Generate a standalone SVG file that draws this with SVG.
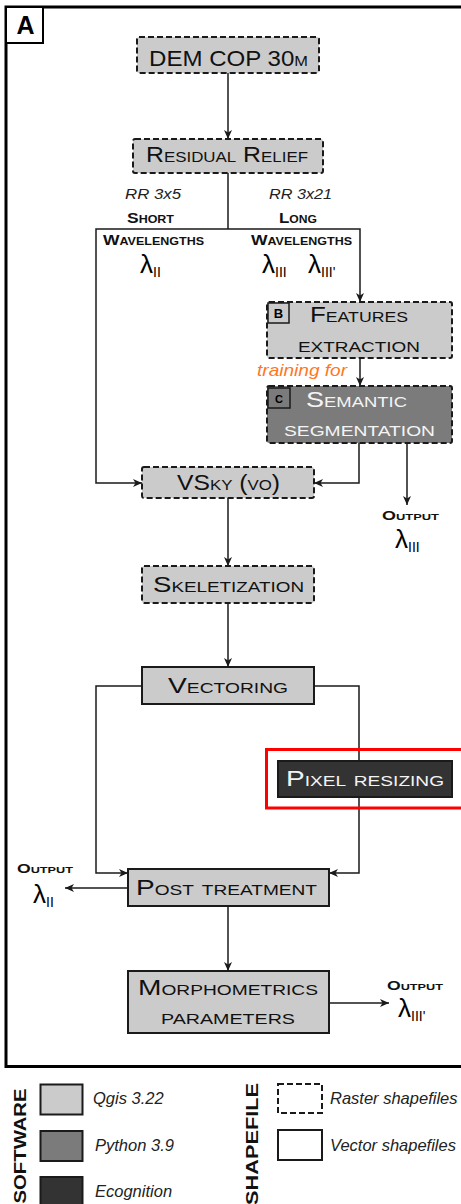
<svg xmlns="http://www.w3.org/2000/svg" width="461" height="1204" viewBox="0 0 461 1204">
<style>
.box{stroke:#1a1a1a;stroke-width:2}
.dash{stroke-dasharray:6 3}
.lg{fill:#cbcbcb}
.md{fill:#7b7b7b}
.dk{fill:#333333}
.lbl{font-family:"Liberation Sans",Arial,sans-serif;font-size:22px;fill:#111;font-variant:small-caps}
.wh{fill:#f4f4f4}
.sm{font-family:"Liberation Sans",Arial,sans-serif;font-size:14px;font-weight:bold;font-variant:small-caps;fill:#111}
.it{font-family:"Liberation Sans",Arial,sans-serif;font-size:14px;font-style:italic;fill:#222}
.lam{font-family:"Liberation Sans",Arial,sans-serif;font-size:26px;fill:#000000}
.sub{font-size:14px;fill:#000000}
.leg{font-family:"Liberation Sans",Arial,sans-serif;font-size:16.5px;font-style:italic;fill:#222}
.vt{font-family:"Liberation Sans",Arial,sans-serif;font-size:17px;font-weight:bold;fill:#111}
.conn{fill:none;stroke:#1a1a1a;stroke-width:1.5}
</style>
<defs>
<marker id="ah" markerUnits="userSpaceOnUse" markerWidth="10" markerHeight="8" refX="9" refY="4" orient="auto">
<path d="M0,0 L9,4 L0,8 L2.5,4 Z" fill="#1a1a1a"/>
</marker>
</defs>
<rect width="461" height="1204" fill="#ffffff"/>
<!-- frame -->
<g id="frame">
<rect x="6" y="7" width="470" height="1059.5" fill="none" stroke="#000" stroke-width="3"/>
<rect x="6" y="7" width="37" height="36" fill="#fff" stroke="#000" stroke-width="2"/>
<text x="25.5" y="34" text-anchor="middle" style="font-family:'Liberation Sans',Arial,sans-serif;font-size:25px;font-weight:bold">A</text>
</g>
<!-- connectors -->
<g id="connectors" class="conn">
<path d="M228,73 V139" marker-end="url(#ah)"/>
<path d="M228,173 V229"/>
<path d="M228,229 H96 V483 H142" marker-end="url(#ah)"/>
<path d="M228,229 H360 V302" marker-end="url(#ah)"/>
<path d="M360,358 V386" marker-end="url(#ah)"/>
<path d="M359,443 V483 H314" marker-end="url(#ah)"/>
<path d="M407,443 V505" marker-end="url(#ah)"/>
<path d="M228,498 V566" marker-end="url(#ah)"/>
<path d="M228,603 V667" marker-end="url(#ah)"/>
<path d="M142,686 H96 V873 H128" marker-end="url(#ah)"/>
<path d="M314,686 H359 V873 H329" marker-end="url(#ah)"/>
<path d="M128,888 H65" marker-end="url(#ah)"/>
<path d="M228,906 V971" marker-end="url(#ah)"/>
<path d="M329,1003 H389" marker-end="url(#ah)"/>
</g>
<!-- branch labels -->
<g id="branch-labels">
<text class="it" x="125" y="199" textLength="56" lengthAdjust="spacingAndGlyphs">RR 3x5</text>
<text class="it" x="269" y="199" textLength="63" lengthAdjust="spacingAndGlyphs">RR 3x21</text>
<text class="sm" x="127" y="223" textLength="47" lengthAdjust="spacingAndGlyphs">Short</text>
<text class="sm" x="279" y="223" textLength="38" lengthAdjust="spacingAndGlyphs">Long</text>
<text class="sm" x="103" y="245" textLength="101" lengthAdjust="spacingAndGlyphs">Wavelengths</text>
<text class="sm" x="251" y="245" textLength="101" lengthAdjust="spacingAndGlyphs">Wavelengths</text>
<text class="lam" x="140" y="273">λ<tspan class="sub" dy="4">II</tspan></text>
<text class="lam" x="262" y="273">λ<tspan class="sub" dy="4">III</tspan></text>
<text class="lam" x="308" y="273">λ<tspan class="sub" dy="4">III'</tspan></text>
<text x="257" y="376" textLength="90" lengthAdjust="spacingAndGlyphs" style="font-family:'Liberation Sans',Arial,sans-serif;font-size:17px;font-style:italic;fill:#ff7722">training for</text>
</g>
<!-- nodes -->
<g id="dem">
<rect class="box dash lg" x="137" y="37" width="182" height="36" rx="2"/>
<text class="lbl" x="149" y="66" textLength="159" lengthAdjust="spacingAndGlyphs">DEM COP 30m</text>
</g>
<g id="residual-relief">
<rect class="box dash lg" x="133" y="139" width="190" height="34" rx="2"/>
<text class="lbl" x="146" y="162" textLength="162" lengthAdjust="spacingAndGlyphs">Residual Relief</text>
</g>
<g id="features">
<rect class="box dash lg" x="267" y="302" width="185" height="56" rx="2"/>
<rect x="268" y="303" width="21" height="20" fill="#cbcbcb" stroke="#1a1a1a" stroke-width="1.5"/>
<text x="278.5" y="318" text-anchor="middle" style="font-family:'Liberation Sans',Arial,sans-serif;font-size:13px;font-weight:bold">B</text>
<text class="lbl" x="310" y="322" textLength="98" lengthAdjust="spacingAndGlyphs">Features</text>
<text class="lbl" x="298" y="352" textLength="122" lengthAdjust="spacingAndGlyphs">extraction</text>
</g>
<g id="semantic">
<rect class="box dash md" x="267" y="386" width="185" height="57" rx="2"/>
<rect x="268" y="388" width="22" height="20" fill="#7b7b7b" stroke="#1a1a1a" stroke-width="1.5"/>
<text x="279" y="403" text-anchor="middle" style="font-family:'Liberation Sans',Arial,sans-serif;font-size:11px;font-weight:bold">C</text>
<text class="lbl wh" x="306" y="407" textLength="101" lengthAdjust="spacingAndGlyphs">Semantic</text>
<text class="lbl wh" x="284" y="436" textLength="151" lengthAdjust="spacingAndGlyphs">segmentation</text>
</g>
<g id="output-3">
<text class="sm" x="382" y="520" textLength="57" lengthAdjust="spacingAndGlyphs" style="font-size:12.5px">Output</text>
<text class="lam" x="395" y="548">λ<tspan class="sub" dy="4">III</tspan></text>
</g>
<g id="vsky">
<rect class="box dash lg" x="142" y="467" width="172" height="31" rx="2"/>
<text class="lbl" x="177" y="490" textLength="103" lengthAdjust="spacingAndGlyphs">VSky (vo)</text>
</g>
<g id="skeletization">
<rect class="box dash lg" x="142" y="566" width="172" height="37" rx="2"/>
<text class="lbl" x="153" y="592" textLength="151" lengthAdjust="spacingAndGlyphs">Skeletization</text>
</g>
<g id="vectoring">
<rect class="box lg" x="142" y="667" width="172" height="37"/>
<text class="lbl" x="168" y="693" textLength="120" lengthAdjust="spacingAndGlyphs">Vectoring</text>
</g>
<g id="pixel-resizing">
<rect class="box dk" x="278" y="761" width="174" height="36"/>
<text class="lbl wh" x="286" y="786" textLength="158" lengthAdjust="spacingAndGlyphs">Pixel resizing</text>
</g>
<rect id="highlight" x="266.5" y="749.5" width="210" height="58.5" fill="none" stroke="#ff0000" stroke-width="3"/>
<g id="post-treatment">
<rect class="box lg" x="128" y="869" width="201" height="37"/>
<text class="lbl" x="136" y="895" textLength="181" lengthAdjust="spacingAndGlyphs">Post treatment</text>
</g>
<g id="output-2">
<text class="sm" x="17" y="873" textLength="56" lengthAdjust="spacingAndGlyphs" style="font-size:12.5px">Output</text>
<text class="lam" x="33" y="903">λ<tspan class="sub" dy="4">II</tspan></text>
</g>
<g id="morphometrics">
<rect class="box lg" x="128" y="971" width="201" height="62"/>
<text class="lbl" x="138" y="995" textLength="180" lengthAdjust="spacingAndGlyphs">Morphometrics</text>
<text class="lbl" x="161" y="1024" textLength="134" lengthAdjust="spacingAndGlyphs">parameters</text>
</g>
<g id="output-3p">
<text class="sm" x="387" y="990" textLength="56" lengthAdjust="spacingAndGlyphs" style="font-size:12.5px">Output</text>
<text class="lam" x="398" y="1017">λ<tspan class="sub" dy="4">III'</tspan></text>
</g>
<!-- legend -->
<g id="legend-software">
<text class="vt" transform="translate(25.5,1146) rotate(-90)" text-anchor="middle" textLength="115" lengthAdjust="spacingAndGlyphs">SOFTWARE</text>
<rect class="box lg" x="40.5" y="1084.5" width="42" height="30"/>
<text class="leg" x="93" y="1104">Qgis 3.22</text>
<rect class="box md" x="40.5" y="1131" width="42" height="30"/>
<text class="leg" x="95" y="1151">Python 3.9</text>
<rect class="box dk" x="40.5" y="1177" width="42" height="32"/>
<text class="leg" x="95" y="1197">Ecognition</text>
</g>
<g id="legend-shapefile">
<text class="vt" transform="translate(257.5,1144) rotate(-90)" text-anchor="middle" textLength="122" lengthAdjust="spacingAndGlyphs">SHAPEFILE</text>
<rect class="box dash" x="278" y="1084" width="44" height="29" fill="#fff"/>
<text class="leg" x="330" y="1104">Raster shapefiles</text>
<rect class="box" x="278" y="1130" width="44" height="30" fill="#fff"/>
<text class="leg" x="330" y="1151">Vector shapefiles</text>
</g>
</svg>
